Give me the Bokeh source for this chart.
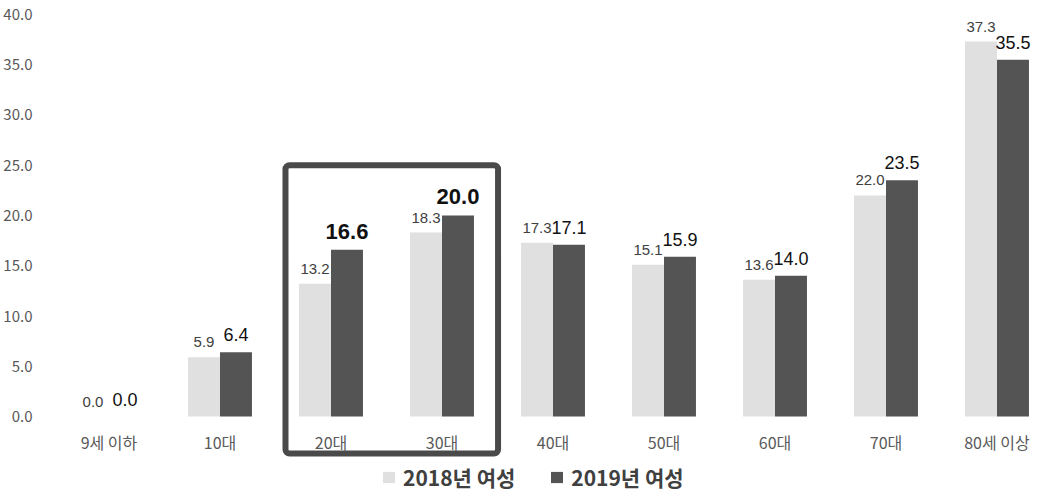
from bokeh.plotting import figure
from bokeh.models import (ColumnDataSource, Range1d, FixedTicker, PrintfTickFormatter,
                          LinearAxis, Legend, LegendItem, BoxAnnotation)
from bokeh.core.properties import value
from bokeh.embed import file_html
from bokeh.resources import INLINE

categories = ["9세 이하", "10대", "20대", "30대", "40대", "50대", "60대", "70대", "80세 이상"]
values_2018 = [0.0, 5.9, 13.2, 18.3, 17.3, 15.1, 13.6, 22.0, 37.3]
values_2019 = [0.0, 6.4, 16.6, 20.0, 17.1, 15.9, 14.0, 23.5, 35.5]
highlight = ["20대", "30대"]
series_names = ["2018년 여성", "2019년 여성"]
y_ticks = [0, 5, 10, 15, 20, 25, 30, 35, 40]

LIGHT = "#e0e0e0"
DARK = "#545454"
bw = 0.288

idx = list(range(len(categories)))
src18 = ColumnDataSource(dict(
    x=[i - bw / 2 for i in idx], top=values_2018,
    label=[f"{v:.1f}" for v in values_2018]))
src19 = ColumnDataSource(dict(
    x=[i + bw / 2 for i in idx], top=values_2019,
    label=[f"{v:.1f}" for v in values_2019],
    size=["22px" if c in highlight else "18px" for c in categories],
    style=["bold" if c in highlight else "normal" for c in categories]))

p = figure(width=1052, height=491, output_backend="svg", toolbar_location=None,
           x_range=Range1d(-0.5, len(categories) - 0.5),
           y_range=Range1d(-7.46, 41.39),
           min_border_left=52, min_border_right=0, min_border_top=0, min_border_bottom=0,
           x_axis_type=None, y_axis_type=None)
p.outline_line_color = None
p.background_fill_color = "white"

yaxis = LinearAxis(ticker=FixedTicker(ticks=y_ticks),
                   formatter=PrintfTickFormatter(format="%.1f"))
yaxis.axis_line_color = None
yaxis.major_tick_line_color = None
yaxis.minor_tick_line_color = None
yaxis.major_label_standoff = 15
yaxis.major_label_text_font = "Noto Sans CJK KR"
yaxis.major_label_text_font_size = "15px"
yaxis.major_label_text_color = "#595959"
p.add_layout(yaxis, "left")

xaxis = LinearAxis(ticker=FixedTicker(ticks=idx),
                   major_label_overrides={i: c for i, c in enumerate(categories)})
xaxis.fixed_location = 0
xaxis.axis_line_color = None
xaxis.major_tick_line_color = None
xaxis.minor_tick_line_color = None
xaxis.major_label_standoff = 7
xaxis.major_label_text_font = "Noto Sans CJK KR"
xaxis.major_label_text_font_size = "16px"
xaxis.major_label_text_color = "#595959"
p.add_layout(xaxis, "below")

p.xgrid.visible = False
p.ygrid.ticker = FixedTicker(ticks=y_ticks)
p.ygrid.grid_line_color = "#e6e6e6"
p.ygrid.grid_line_width = 1

r18 = p.vbar(x="x", top="top", bottom=0, width=bw, source=src18,
             fill_color=LIGHT, line_color=None)
r19 = p.vbar(x="x", top="top", bottom=0, width=bw, source=src19,
             fill_color=DARK, line_color=None)

p.text(x="x", y="top", text="label", source=src18, text_align="center",
       text_baseline="bottom", y_offset=-10, text_font=value("Liberation Sans"),
       text_font_size="15px", text_color="#404040")
p.text(x="x", y="top", text="label", source=src19, text_align="center",
       text_baseline="bottom", y_offset=-11, text_font=value("Liberation Sans"),
       text_font_size="size", text_font_style="style", text_color="#111111")

# highlight box around the highlighted categories
hi_idx = [categories.index(c) for c in highlight]
hi_top = max(values_2019[i] for i in hi_idx) + 5
box = BoxAnnotation(left=min(hi_idx) - 0.41, right=max(hi_idx) + 0.505,
                    top=hi_top, bottom=-3.68,
                    fill_alpha=0, line_color="#4a4a4a", line_alpha=1, line_width=6,
                    border_radius=4)
p.add_layout(box)

legend = Legend(items=[LegendItem(label=series_names[0], renderers=[r18]),
                       LegendItem(label=series_names[1], renderers=[r19])],
                orientation="horizontal", location=(328, -1))
legend.background_fill_alpha = 0
legend.border_line_color = None
legend.glyph_width = 15
legend.glyph_height = 14
legend.label_text_font = "Noto Sans CJK KR"
legend.label_text_font_size = "21px"
legend.label_text_font_style = "bold"
legend.label_text_color = "#404040"
legend.label_standoff = 7
legend.spacing = 34
legend.padding = 0
legend.margin = 0
p.add_layout(legend)

open("out.html", "w").write(file_html(p, INLINE))
